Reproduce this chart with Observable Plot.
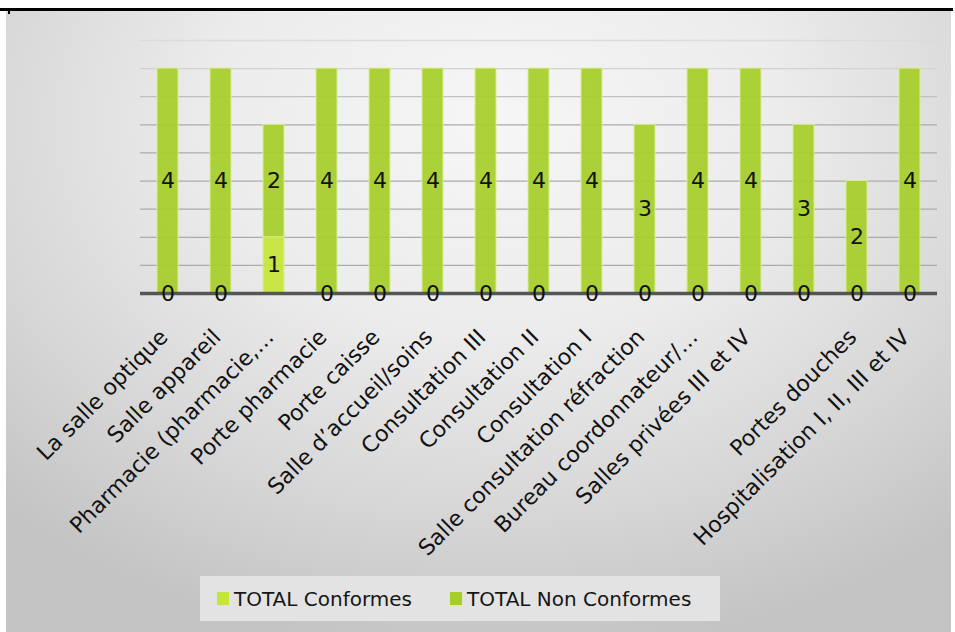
<!DOCTYPE html>
<html>
<head>
<meta charset="utf-8">
<script src="https://cdn.jsdelivr.net/npm/d3@7"></script>
<script src="https://cdn.jsdelivr.net/npm/@observablehq/plot@0.6"></script>
<style>
  html, body { margin: 0; padding: 0; background: #ffffff; }
  #wrap { position: relative; width: 955px; height: 632px; overflow: hidden; background: #fff; font-family: "DejaVu Sans", sans-serif; }
  #panel { position: absolute; left: 6px; top: 11px; width: 945px; height: 621px;
    background: radial-gradient(ellipse 75% 85% at 52% 18%, #f6f6f6 0%, #ececec 40%, #d6d6d6 75%, #c4c4c4 100%); }
  #topline { position: absolute; left: 0; top: 8px; width: 953px; height: 3px; background: #000; }
  #dot { position: absolute; left: 8px; top: 11px; width: 2px; height: 3px; background: #000; }
  #chart { position: absolute; left: 0; top: 0; }
  #legend { position: absolute; left: 200px; top: 576px; width: 520px; height: 45px; background: #e3e3e3;
    display: flex; align-items: center; font-size: 20px; color: #161616; }
  .item { display: flex; align-items: center; }
  .sw { width: 12px; height: 13px; margin-right: 5px; }
</style>
</head>
<body>
<div id="wrap">
  <div id="panel"></div>
  <div id="topline"></div>
  <div id="dot"></div>
  <div id="chart"></div>
  <div id="legend"></div>
</div>
<script>
const categories = [
  "La salle optique",
  "Salle appareil",
  "Pharmacie (pharmacie,…",
  "Porte pharmacie",
  "Porte caisse",
  "Salle d’accueil/soins",
  "Consultation III",
  "Consultation II",
  "Consultation I",
  "Salle consultation réfraction",
  "Bureau coordonnateur/…",
  "Salles privées III et IV",
  "",
  "Portes douches",
  "Hospitalisation I, II, III et IV"
];
const seriesNames = ["TOTAL Conformes", "TOTAL Non Conformes"];
const conformes    = [0, 0, 1, 0, 0, 0, 0, 0, 0, 0, 0, 0, 0, 0, 0];
const nonConformes = [4, 4, 2, 4, 4, 4, 4, 4, 4, 3, 4, 4, 3, 2, 4];
const gridValues = [0.5, 1, 1.5, 2, 2.5, 3, 3.5, 4, 4.5];
const colors = ["#c6e53a", "#a7cd29"];

const data = [];
categories.forEach((c, i) => {
  data.push({cat: c, series: seriesNames[0], value: conformes[i]});
  data.push({cat: c, series: seriesNames[1], value: nonConformes[i]});
});

const gridColor = v => v >= 4.5 ? "#dcdcdc" : v >= 4 ? "#d2d2d2" : v >= 3.5 ? "#c0c0c0" : "#ababab";

const chart = Plot.plot({
  width: 955,
  height: 575,
  marginLeft: 140,
  marginRight: 18,
  marginTop: 40,
  marginBottom: 282,
  style: {background: "transparent", fontFamily: "DejaVu Sans, sans-serif", overflow: "visible"},
  x: {domain: categories, paddingInner: 0.6, paddingOuter: 0.3, label: null},
  y: {domain: [0, 4.5], axis: null},
  color: {domain: seriesNames, range: colors},
  marks: [
    Plot.ruleY(gridValues, {stroke: d => gridColor(d), strokeWidth: 1.3}),
    Plot.barY(data, Plot.stackY({x: "cat", y: "value", fill: "series", order: null,
      stroke: "#d8ee94", strokeWidth: 1, fillOpacity: 0.93})),
    Plot.ruleY([0], {stroke: "#555555", strokeWidth: 3.5}),
    Plot.text(data, Plot.stackY({x: "cat", y: "value", z: "series", order: null,
      text: d => String(d.value), fontSize: 22, fill: "#111111", lineAnchor: "middle"})),
    Plot.axisX({tickRotate: -45, tickSize: 0, tickPadding: 40, dx: -4, fontSize: 22, fill: "#111111", label: null})
  ]
});
document.getElementById("chart").appendChild(chart);

const legend = document.getElementById("legend");
seriesNames.forEach((s, i) => {
  const it = document.createElement("div");
  it.className = "item";
  it.style.marginLeft = i === 0 ? "17px" : "38px";
  const sw = document.createElement("div");
  sw.className = "sw";
  sw.style.background = colors[i];
  const t = document.createElement("span");
  t.textContent = s;
  it.appendChild(sw); it.appendChild(t);
  legend.appendChild(it);
});
</script>
</body>
</html>
